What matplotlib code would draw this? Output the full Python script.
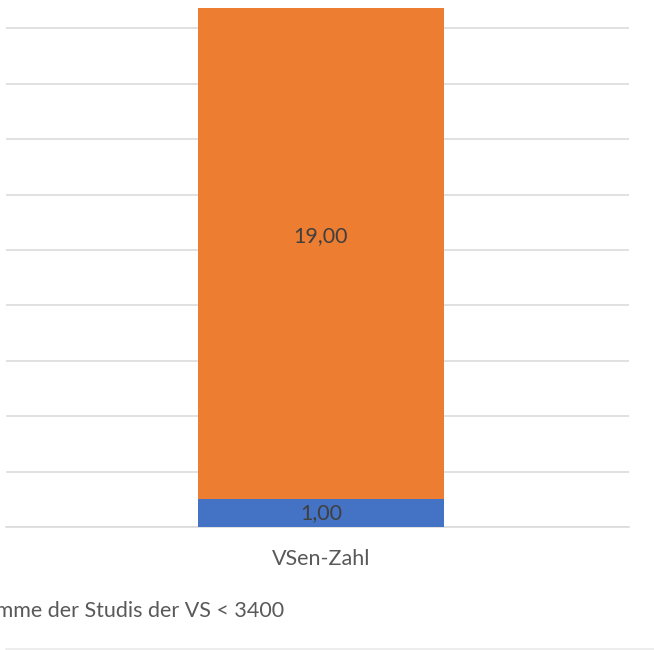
import matplotlib.pyplot as plt
from matplotlib.lines import Line2D

plt.rcParams['font.family'] = ['Lato', 'DejaVu Sans']

# stacked column data
category = ['VSen-Zahl']
series_names = ['Summe der Studis der VS < 3400', 'Summe der Studis der VS >= 3400']
below_3400 = [1.00]
above_3400 = [19.00]
grid_ticks = [0, 2, 4, 6, 8, 10, 12, 14, 16, 18]

text_grey = '#595959'
grid_grey = '#d9d9d9'
fs = 15.5

fig = plt.figure(figsize=(6.54, 6.50), dpi=100)
ax = fig.add_axes([6 / 654, 1 - 527 / 650, 623 / 654, 519 / 650])

xpos = [0]
ax.bar(xpos, below_3400, width=0.5, color='#4472C4', zorder=3)
ax.bar(xpos, above_3400, width=0.5, bottom=below_3400, color='#ED7D31', zorder=3)

# value labels in the middle of each segment
for v, base in zip(below_3400, [0] * len(below_3400)):
    ax.text(0, base + v / 2, f'{v:.2f}'.replace('.', ','), ha='center', va='center',
            fontsize=fs, color='#404040', zorder=4)
for v, base in zip(above_3400, below_3400):
    ax.text(0, base + v / 2, f'{v:.2f}'.replace('.', ','), ha='center', va='center',
            fontsize=fs, color='#404040', zorder=4)

ax.set_xlim(-0.640, 0.626)
ax.set_ylim(0, 18.74)
ax.set_yticks(grid_ticks)
ax.yaxis.grid(True, color=grid_grey, linewidth=1.1)
ax.set_axisbelow(True)
ax.tick_params(left=False, labelleft=False, bottom=False, labelbottom=False)
for side in ['top', 'right', 'left']:
    ax.spines[side].set_visible(False)
ax.spines['bottom'].set_color(grid_grey)
ax.spines['bottom'].set_linewidth(1.1)

# category label under the column
fig.text(321 / 654, 1 - 559 / 650, category[0], ha='center', va='center',
         fontsize=fs, color=text_grey)

# legend entry, partly cut off at the left edge
fig.text(284 / 654, 1 - 611 / 650, series_names[0], ha='right', va='center',
         fontsize=fs, color=text_grey)
fig.add_artist(Line2D([6 / 654, 1.0], [1 - 649 / 650] * 2, color='#e8e8e8', linewidth=1.1))

fig.savefig('out.png', dpi=100)
